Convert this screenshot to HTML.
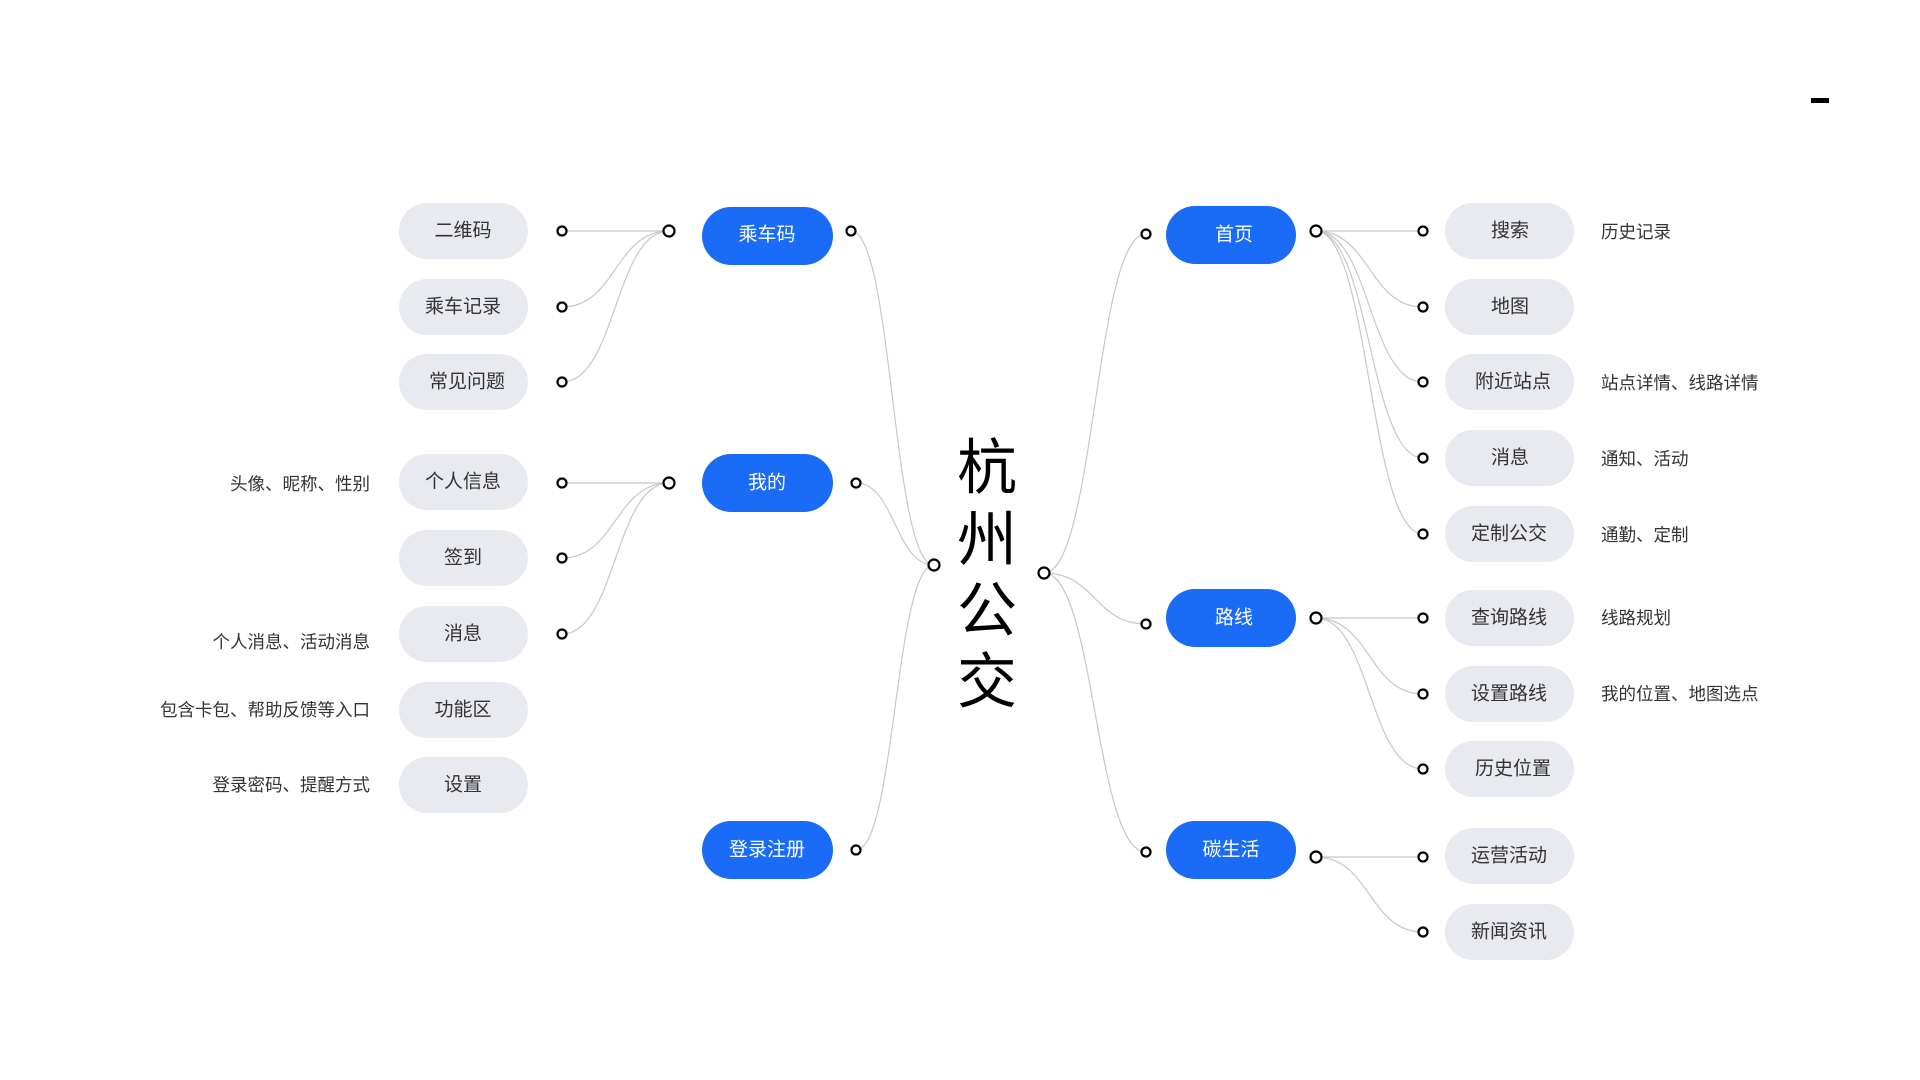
<!DOCTYPE html>
<html><head><meta charset="utf-8"><style>
html,body{margin:0;padding:0;background:#fff;}
svg{display:block}
text{font-family:"Liberation Sans","Noto Sans CJK SC",sans-serif;}
</style></head><body>
<svg width="1920" height="1080" viewBox="0 0 1920 1080" xmlns="http://www.w3.org/2000/svg">
<rect x="1811" y="98" width="18" height="5" fill="#000"/>
<g transform="translate(0,1)">
<g fill="none" stroke="#c8c8c8" stroke-width="1.2">
<path d="M669 230 L562 230"/>
<path d="M669 230 C615 230 616 306 562 306"/>
<path d="M669 230 C615 230 616 381 562 381"/>
<path d="M669 482 L562 482"/>
<path d="M669 482 C615 482 616 557 562 557"/>
<path d="M669 482 C615 482 616 633 562 633"/>
<path d="M934 564 C892 564 893 230 851 230"/>
<path d="M934 564 C895 564 895 482 856 482"/>
<path d="M934 564 C895 564 895 849 856 849"/>
<path d="M1044 572 C1095 572 1095 233 1146 233"/>
<path d="M1044 572 C1095 572 1095 623 1146 623"/>
<path d="M1044 572 C1095 572 1095 851 1146 851"/>
<path d="M1316 230 L1423 230"/>
<path d="M1316 230 C1370 230 1369 306 1423 306"/>
<path d="M1316 230 C1370 230 1369 381 1423 381"/>
<path d="M1316 230 C1370 230 1369 457 1423 457"/>
<path d="M1316 230 C1370 230 1369 533 1423 533"/>
<path d="M1316 617 L1423 617"/>
<path d="M1316 617 C1370 617 1369 693 1423 693"/>
<path d="M1316 617 C1370 617 1369 768 1423 768"/>
<path d="M1316 856 L1423 856"/>
<path d="M1316 856 C1370 856 1369 931 1423 931"/>
</g>
<g fill="#e8eaf0">
<rect x="399" y="202" width="129" height="56" rx="28"/>
<rect x="399" y="278" width="129" height="56" rx="28"/>
<rect x="399" y="353" width="129" height="56" rx="28"/>
<rect x="399" y="453" width="129" height="56" rx="28"/>
<rect x="399" y="529" width="129" height="56" rx="28"/>
<rect x="399" y="605" width="129" height="56" rx="28"/>
<rect x="399" y="681" width="129" height="56" rx="28"/>
<rect x="399" y="756" width="129" height="56" rx="28"/>
<rect x="1445" y="202" width="129" height="56" rx="28"/>
<rect x="1445" y="278" width="129" height="56" rx="28"/>
<rect x="1445" y="353" width="129" height="56" rx="28"/>
<rect x="1445" y="429" width="129" height="56" rx="28"/>
<rect x="1445" y="505" width="129" height="56" rx="28"/>
<rect x="1445" y="589" width="129" height="56" rx="28"/>
<rect x="1445" y="665" width="129" height="56" rx="28"/>
<rect x="1445" y="740" width="129" height="56" rx="28"/>
<rect x="1445" y="827" width="129" height="56" rx="28"/>
<rect x="1445" y="903" width="129" height="56" rx="28"/>
</g>
<g fill="#1a6cf6">
<rect x="702" y="206" width="131" height="58" rx="29"/>
<rect x="702" y="453" width="131" height="58" rx="29"/>
<rect x="702" y="820" width="131" height="58" rx="29"/>
<rect x="1166" y="205" width="130" height="58" rx="29"/>
<rect x="1166" y="588" width="130" height="58" rx="29"/>
<rect x="1166" y="820" width="130" height="58" rx="29"/>
</g>
<g font-size="19" fill="#333" text-anchor="middle" dominant-baseline="central">
<text x="463" y="230">二维码</text>
<text x="463" y="306">乘车记录</text>
<text x="467" y="381">常见问题</text>
<text x="463" y="481">个人信息</text>
<text x="463" y="557">签到</text>
<text x="463" y="633">消息</text>
<text x="463" y="709">功能区</text>
<text x="463" y="784">设置</text>
<text x="1510" y="230">搜索</text>
<text x="1510" y="306">地图</text>
<text x="1513" y="381">附近站点</text>
<text x="1510" y="457">消息</text>
<text x="1509" y="533">定制公交</text>
<text x="1509" y="617">查询路线</text>
<text x="1509" y="693">设置路线</text>
<text x="1513" y="768">历史位置</text>
<text x="1509" y="855">运营活动</text>
<text x="1509" y="931">新闻资讯</text>
</g>
<g font-size="19" fill="#fff" text-anchor="middle" dominant-baseline="central">
<text x="767" y="234">乘车码</text>
<text x="767" y="482">我的</text>
<text x="767" y="849">登录注册</text>
<text x="1234" y="234">首页</text>
<text x="1234" y="617">路线</text>
<text x="1231" y="849">碳生活</text>
</g>
<g font-size="17.5" fill="#333" dominant-baseline="central">
<text x="1601" y="231">历史记录</text>
<text x="1601" y="382">站点详情、线路详情</text>
<text x="1601" y="458">通知、活动</text>
<text x="1601" y="534">通勤、定制</text>
<text x="1601" y="617">线路规划</text>
<text x="1601" y="693">我的位置、地图选点</text>
</g>
<g font-size="17.5" fill="#333" dominant-baseline="central" text-anchor="end">
<text x="370" y="483">头像、昵称、性别</text>
<text x="370" y="641">个人消息、活动消息</text>
<text x="370" y="709">包含卡包、帮助反馈等入口</text>
<text x="370" y="784">登录密码、提醒方式</text>
</g>
<g font-size="60" fill="#000" text-anchor="middle" dominant-baseline="central">
<text x="987" y="467">杭</text>
<text x="987" y="539">州</text>
<text x="987" y="610">公</text>
<text x="987" y="681">交</text>
</g>
<g fill="#fff" stroke="#000" stroke-width="2.2">
<circle cx="562" cy="230" r="4.5"/><circle cx="562" cy="306" r="4.5"/><circle cx="562" cy="381" r="4.5"/>
<circle cx="562" cy="482" r="4.5"/><circle cx="562" cy="557" r="4.5"/><circle cx="562" cy="633" r="4.5"/>
<circle cx="669" cy="230" r="5.5"/><circle cx="669" cy="482" r="5.5"/>
<circle cx="851" cy="230" r="4.5"/><circle cx="856" cy="482" r="4.5"/><circle cx="856" cy="849" r="4.5"/>
<circle cx="934" cy="564" r="5.5"/><circle cx="1044" cy="572" r="5.5"/>
<circle cx="1146" cy="233" r="4.5"/><circle cx="1146" cy="623" r="4.5"/><circle cx="1146" cy="851" r="4.5"/>
<circle cx="1316" cy="230" r="5.5"/><circle cx="1316" cy="617" r="5.5"/><circle cx="1316" cy="856" r="5.5"/>
<circle cx="1423" cy="230" r="4.5"/><circle cx="1423" cy="306" r="4.5"/><circle cx="1423" cy="381" r="4.5"/>
<circle cx="1423" cy="457" r="4.5"/><circle cx="1423" cy="533" r="4.5"/><circle cx="1423" cy="617" r="4.5"/>
<circle cx="1423" cy="693" r="4.5"/><circle cx="1423" cy="768" r="4.5"/><circle cx="1423" cy="856" r="4.5"/>
<circle cx="1423" cy="931" r="4.5"/>
</g>
</g>
</svg>
</body></html>
